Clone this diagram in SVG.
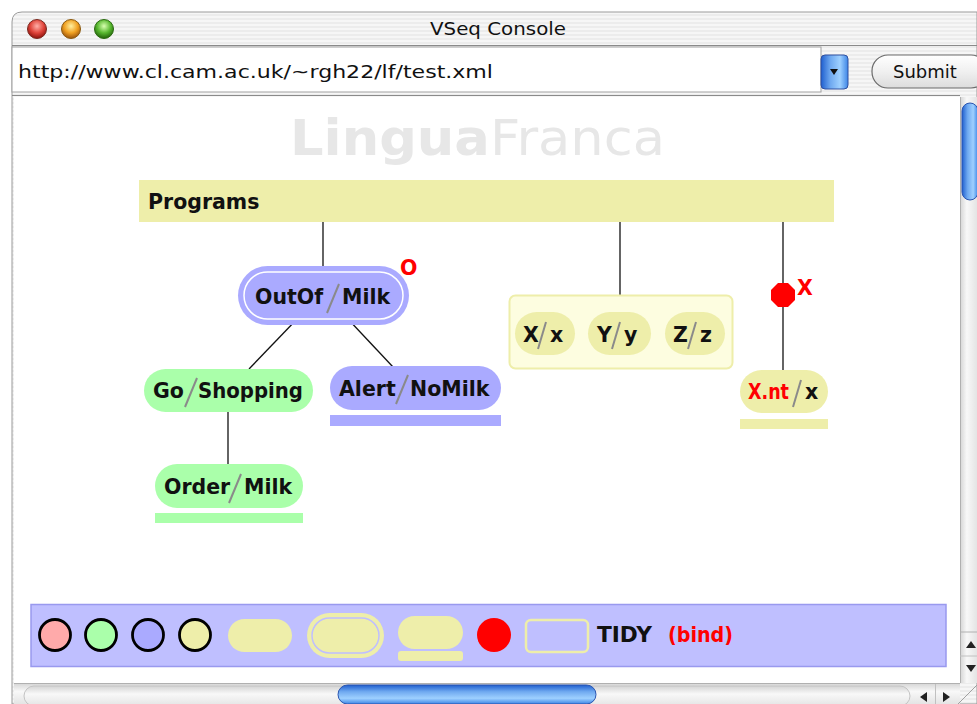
<svg xmlns="http://www.w3.org/2000/svg" width="977" height="704" viewBox="0 0 977 704">
  <defs>
    <pattern id="pinstripe" width="4" height="4" patternUnits="userSpaceOnUse">
      <rect width="4" height="4" fill="#ececec"/>
      <rect y="0" width="4" height="2" fill="#f6f6f6"/>
    </pattern>
    <linearGradient id="blueGel" x1="0" y1="0" x2="0" y2="1">
      <stop offset="0" stop-color="#1f5fcf"/>
      <stop offset="0.35" stop-color="#6fa9f0"/>
      <stop offset="0.7" stop-color="#9ed0ff"/>
      <stop offset="1" stop-color="#3d85e6"/>
    </linearGradient>
    <linearGradient id="blueGelV" x1="0" y1="0" x2="1" y2="0">
      <stop offset="0" stop-color="#1f5fcf"/>
      <stop offset="0.35" stop-color="#6fa9f0"/>
      <stop offset="0.7" stop-color="#9ed0ff"/>
      <stop offset="1" stop-color="#3d85e6"/>
    </linearGradient>
    <linearGradient id="track" x1="0" y1="0" x2="0" y2="1">
      <stop offset="0" stop-color="#d4d4d4"/>
      <stop offset="0.4" stop-color="#f8f8f8"/>
      <stop offset="1" stop-color="#e4e4e4"/>
    </linearGradient>
    <linearGradient id="trackV" x1="0" y1="0" x2="1" y2="0">
      <stop offset="0" stop-color="#d4d4d4"/>
      <stop offset="0.4" stop-color="#f8f8f8"/>
      <stop offset="1" stop-color="#e4e4e4"/>
    </linearGradient>
    <linearGradient id="button" x1="0" y1="0" x2="0" y2="1">
      <stop offset="0" stop-color="#ffffff"/>
      <stop offset="0.5" stop-color="#f0f0f0"/>
      <stop offset="1" stop-color="#dcdcdc"/>
    </linearGradient>
    <radialGradient id="redLight" cx="0.5" cy="0.35" r="0.6">
      <stop offset="0" stop-color="#ffb0a8"/>
      <stop offset="0.6" stop-color="#e0443a"/>
      <stop offset="1" stop-color="#9a1a14"/>
    </radialGradient>
    <radialGradient id="amberLight" cx="0.5" cy="0.35" r="0.6">
      <stop offset="0" stop-color="#fff0a0"/>
      <stop offset="0.6" stop-color="#f0a020"/>
      <stop offset="1" stop-color="#a86010"/>
    </radialGradient>
    <radialGradient id="greenLight" cx="0.5" cy="0.35" r="0.6">
      <stop offset="0" stop-color="#d8ffb0"/>
      <stop offset="0.6" stop-color="#58b830"/>
      <stop offset="1" stop-color="#2a7010"/>
    </radialGradient>
    <style>
      .lbl { font-family: "DejaVu Sans", "Liberation Sans", sans-serif; font-weight: bold; font-size: 20.5px; fill: #111; }
      .red { fill: #ff0000; }
      .chrome { font-family: "DejaVu Sans", "Liberation Sans", sans-serif; font-size: 18px; fill: #111; }
      .edge { stroke: #111; stroke-width: 1.3; fill: none; }
      .slash { stroke: #8a8a8a; stroke-width: 2; }
      .pink { fill: #ffaaaa; }
      .green { fill: #aaffaa; }
      .blue { fill: #aaaaff; }
      .yellow { fill: #eeeeaa; }
      .legendDot { stroke: #000; stroke-width: 2.8; }
    </style>
  </defs>

  <!-- background and window frame -->
  <rect width="977" height="704" fill="#ffffff"/>
  <path d="M12 704 V22 Q12 12 22 12 H977 V704 Z" fill="url(#pinstripe)" stroke="#9a9a9a" stroke-width="1"/>

  <!-- title bar -->
  <g id="titlebar">
    <circle cx="37" cy="29" r="9.5" fill="url(#redLight)" stroke="#7a2a20" stroke-width="1"/>
    <circle cx="71" cy="29" r="9.5" fill="url(#amberLight)" stroke="#8a5a10" stroke-width="1"/>
    <circle cx="104" cy="29" r="9.5" fill="url(#greenLight)" stroke="#2a6a10" stroke-width="1"/>
    <text class="chrome" x="498" y="35" text-anchor="middle" font-size="19" textLength="136" lengthAdjust="spacingAndGlyphs">VSeq Console</text>
    <line x1="12" y1="45.5" x2="977" y2="45.5" stroke="#8a8a8a" stroke-width="1"/>
  </g>

  <!-- address bar -->
  <g id="addressbar">
    <rect x="12" y="47" width="809" height="45" fill="#ffffff" stroke="#a0a0a0" stroke-width="1"/>
    <text class="chrome" x="18" y="78" font-size="20" textLength="475" lengthAdjust="spacingAndGlyphs">http://www.cl.cam.ac.uk/~rgh22/lf/test.xml</text>
    <rect x="821" y="55" width="27" height="34" rx="4" fill="url(#blueGelV)" stroke="#3050a0" stroke-width="1"/>
    <path d="M830 69 L838 69 L834 75 Z" fill="#111"/>
    <rect x="872" y="55" width="115" height="33" rx="16" fill="url(#button)" stroke="#6a6a6a" stroke-width="1.2"/>
    <text class="chrome" x="893" y="78" font-size="19">Submit</text>
    <line x1="12" y1="95.5" x2="960" y2="95.5" stroke="#8a8a8a" stroke-width="1"/>
  </g>

  <!-- content canvas -->
  <rect x="14" y="97" width="946" height="586" fill="#ffffff"/>

  <!-- watermark -->
  <text x="290" y="155" font-family="DejaVu Sans, Liberation Sans, sans-serif" font-size="50" fill="#e7e7e7" textLength="375" lengthAdjust="spacingAndGlyphs"><tspan font-weight="bold">Lingua</tspan><tspan>Franca</tspan></text>

  <!-- Programs header -->
  <g id="programs">
    <rect x="139" y="180" width="695" height="42" class="yellow"/>
    <text class="lbl" x="148" y="209" font-size="19.5">Programs</text>
  </g>

  <!-- connectors -->
  <g id="connectors">
    <line class="edge" x1="323" y1="222" x2="323" y2="268"/>
    <line class="edge" x1="298" y1="318" x2="249" y2="369"/>
    <line class="edge" x1="347" y1="318" x2="393" y2="367"/>
    <line class="edge" x1="228" y1="412" x2="228" y2="465"/>
    <line class="edge" x1="620" y1="222" x2="620" y2="295"/>
    <line class="edge" x1="783" y1="222" x2="783" y2="371"/>
  </g>

  <!-- OutOf/Milk -->
  <g id="outOfMilk">
    <rect x="238" y="266" width="171" height="59" rx="29.5" class="blue"/>
    <rect x="244" y="272" width="159" height="47" rx="23.5" fill="none" stroke="#ffffff" stroke-width="1.5"/>
    <text class="lbl" x="255" y="304">OutOf</text>
    <line class="slash" x1="339" y1="284" x2="327" y2="313"/>
    <text class="lbl" x="342" y="304">Milk</text>
    <text class="lbl red" x="400" y="275">O</text>
  </g>

  <!-- Go/Shopping -->
  <g id="goShopping">
    <rect x="144" y="369" width="169" height="43" rx="21.5" class="green"/>
    <text class="lbl" x="153" y="398">Go</text>
    <line class="slash" x1="197" y1="378" x2="185" y2="407"/>
    <text class="lbl" x="198" y="398" textLength="105" lengthAdjust="spacingAndGlyphs">Shopping</text>
  </g>

  <!-- Order/Milk -->
  <g id="orderMilk">
    <rect x="155" y="464" width="148" height="44" rx="22" class="green"/>
    <text class="lbl" x="164" y="494">Order</text>
    <line class="slash" x1="241" y1="474" x2="229" y2="503"/>
    <text class="lbl" x="244" y="494">Milk</text>
    <rect x="155" y="513" width="148" height="10" class="green"/>
  </g>

  <!-- Alert/NoMilk -->
  <g id="alertNoMilk">
    <rect x="330" y="366" width="171" height="44" rx="22" class="blue"/>
    <text class="lbl" x="339" y="396">Alert</text>
    <line class="slash" x1="408" y1="375" x2="396" y2="404"/>
    <text class="lbl" x="410" y="396">NoMilk</text>
    <rect x="330" y="415" width="171" height="11" class="blue"/>
  </g>

  <!-- parallel group X/x Y/y Z/z -->
  <g id="parallelGroup">
    <rect x="509.5" y="295.5" width="223" height="73" rx="6" fill="#fdfde0" stroke="#eeeeaa" stroke-width="2"/>
    <g id="xx">
      <rect x="515" y="312" width="60" height="43" rx="21.5" class="yellow"/>
      <text class="lbl" x="523" y="342">X</text>
      <line class="slash" x1="546" y1="322" x2="538" y2="349"/>
      <text class="lbl" x="550" y="342">x</text>
    </g>
    <g id="yy">
      <rect x="588" y="312" width="63" height="43" rx="21.5" class="yellow"/>
      <text class="lbl" x="597" y="342">Y</text>
      <line class="slash" x1="620" y1="322" x2="612" y2="349"/>
      <text class="lbl" x="624" y="342">y</text>
    </g>
    <g id="zz">
      <rect x="665" y="312" width="60" height="43" rx="21.5" class="yellow"/>
      <text class="lbl" x="673" y="342">Z</text>
      <line class="slash" x1="696" y1="322" x2="688" y2="349"/>
      <text class="lbl" x="700" y="342">z</text>
    </g>
  </g>

  <!-- binder marker -->
  <g id="binder">
    <polygon points="778,283 788,283 795,290 795,300 788,307 778,307 771,300 771,290" fill="#ff0000"/>
    <text class="lbl red" x="797" y="295">X</text>
  </g>

  <!-- X.nt/x -->
  <g id="xntx">
    <rect x="740" y="370" width="88" height="43" rx="21.5" class="yellow"/>
    <text class="lbl red" x="748" y="399" textLength="41" lengthAdjust="spacingAndGlyphs">X.nt</text>
    <line class="slash" x1="801" y1="380" x2="793" y2="407"/>
    <text class="lbl" x="805" y="399">x</text>
    <rect x="740" y="419" width="88" height="10" class="yellow"/>
  </g>

  <!-- palette -->
  <g id="palette">
    <rect x="31" y="604.5" width="915" height="62" fill="#bfbfff" stroke="#9999ee" stroke-width="1.5"/>
    <circle cx="55" cy="635" r="15.5" class="pink legendDot"/>
    <circle cx="101" cy="635" r="15.5" class="green legendDot"/>
    <circle cx="148" cy="635" r="15.5" class="blue legendDot"/>
    <circle cx="195" cy="635" r="15.5" class="yellow legendDot"/>
    <rect x="228" y="619" width="64" height="33" rx="16.5" class="yellow"/>
    <rect x="307" y="613" width="77" height="45" rx="22.5" class="yellow"/>
    <rect x="312" y="618" width="67" height="35" rx="17.5" fill="none" stroke="#bfbfff" stroke-width="1.5"/>
    <rect x="398" y="616" width="65" height="33" rx="16.5" class="yellow"/>
    <rect x="398" y="651" width="65" height="10" rx="3" class="yellow"/>
    <circle cx="494" cy="635" r="17" fill="#ff0000"/>
    <rect x="526" y="620" width="62" height="32" rx="5" fill="none" stroke="#eeeeaa" stroke-width="2.5"/>
    <text class="lbl" x="597" y="642" textLength="55" lengthAdjust="spacingAndGlyphs">TIDY</text>
    <text class="lbl red" x="668" y="642" textLength="65" lengthAdjust="spacingAndGlyphs">(bind)</text>
  </g>

  <!-- vertical scrollbar -->
  <g id="vscroll">
    <rect x="960" y="97" width="17" height="586" fill="url(#trackV)"/>
    <line x1="960.5" y1="97" x2="960.5" y2="683" stroke="#b0b0b0"/>
    <rect x="962" y="103" width="16" height="97" rx="8" fill="url(#blueGelV)" stroke="#2a55b0" stroke-width="1"/>
    <line x1="960" y1="632" x2="977" y2="632" stroke="#b0b0b0"/>
    <path d="M966 648 L971 641 L976 648 Z" fill="#222"/>
    <line x1="960" y1="656" x2="977" y2="656" stroke="#c0c0c0"/>
    <path d="M966 665 L971 672 L976 665 Z" fill="#222"/>
  </g>

  <!-- horizontal scrollbar -->
  <g id="hscroll">
    <rect x="14" y="683" width="946" height="21" fill="url(#track)"/>
    <line x1="14" y1="683.5" x2="960" y2="683.5" stroke="#b0b0b0"/>
    <rect x="24" y="686" width="886" height="20" rx="10" fill="url(#track)" stroke="#c4c4c4"/>
    <rect x="338" y="685" width="258" height="19" rx="9.5" fill="url(#blueGel)" stroke="#2a55b0" stroke-width="1"/>
    <path d="M927 692 L920 697 L927 702 Z" fill="#222"/>
    <line x1="935.5" y1="684" x2="935.5" y2="704" stroke="#c0c0c0"/>
    <path d="M943 692 L950 697 L943 702 Z" fill="#222"/>
    <line x1="958" y1="704" x2="977" y2="685" stroke="#a0a0a0"/>
  </g>
</svg>
